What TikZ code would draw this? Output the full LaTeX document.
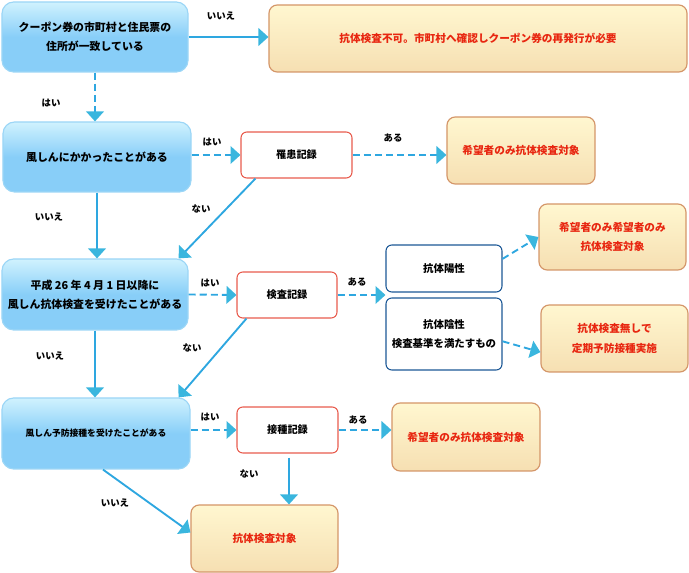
\documentclass[tikz,border=0pt]{standalone}
\usepackage{fontspec}
\setmainfont{Noto Sans CJK JP}
\usetikzlibrary{calc,arrows.meta}
\definecolor{flowc}{RGB}{46,167,224}
\definecolor{tipc}{RGB}{58,182,222}
\definecolor{blueTop}{RGB}{208,242,254}
\definecolor{blueBot}{RGB}{136,206,248}
\definecolor{blueLine}{RGB}{156,214,246}
\definecolor{orTop}{RGB}{255,247,208}
\definecolor{orBot}{RGB}{246,223,178}
\definecolor{orLine}{RGB}{212,150,105}
\definecolor{resRed}{RGB}{232,38,16}
\definecolor{recLine}{RGB}{232,92,78}
\definecolor{labLine}{RGB}{28,88,150}

\tikzset{
	question/.style={rounded corners=10pt, draw=blueLine, line width=1pt, top color=blueTop, bottom color=blueBot, middle color=blueBot, align=center, inner sep=0pt, font=\fontsize{9.3}{16.5}\selectfont\bfseries},
	result/.style={rounded corners=7pt, draw=orLine, line width=1pt, top color=orTop, bottom color=orBot, text=resRed, align=center, inner sep=0pt, font=\fontsize{9.1}{17}\selectfont\bfseries},
	record/.style={rounded corners=5pt, draw=recLine, line width=0.9pt, fill=white, inner sep=0pt, font=\fontsize{8.7}{10}\selectfont\bfseries},
	titer/.style={rounded corners=5pt, draw=labLine, line width=0.9pt, fill=white, align=center, inner sep=0pt, font=\fontsize{8.9}{16.5}\selectfont\bfseries},
	lab/.style={font=\fontsize{8}{10}\selectfont\bfseries},
	flow/.style={draw=flowc, line width=1.6pt, -{Triangle[length=8.5pt,width=15pt,color=tipc]}},
	flowd/.style={flow, dash pattern=on 6pt off 3.5pt}
}

\begin{document}
\begin{tikzpicture}[x=0.03cm,y=-0.03cm]
	\useasboundingbox (0,0) rectangle (689,573);
	
	\node[question, minimum width=5.58cm, minimum height=2.1cm] (coupon) at (95,37) {クーポン券の市町村と住民票の\\住所が一致している};
	\node[result, minimum width=12.54cm, minimum height=2.01cm] (res1) at (478,38.5) {抗体検査不可。市町村へ確認しクーポン券の再発行が必要};
	
	\node[question, minimum width=5.64cm, minimum height=2.1cm] (measles) at (97,157) {風しんにかかったことがある};
	\node[record, minimum width=3.33cm, minimum height=1.38cm] (kanja) at (296.5,155) {罹患記録};
	\node[result, minimum width=4.44cm, minimum height=2.01cm] (res2) at (521,150.5) {希望者のみ抗体検査対象};
	
	\node[question, minimum width=5.58cm, minimum height=2.13cm] (antibody) at (95,294.5) {平成 26 年 4 月 1 日以降に\\風しん抗体検査を受けたことがある};
	\node[record, minimum width=3cm, minimum height=1.38cm] (kensa) at (287,295) {検査記録};
	\node[titer, minimum width=3.48cm, minimum height=1.41cm] (yousei) at (444,268.5) {抗体陽性};
	\node[titer, minimum width=3.48cm, minimum height=2.16cm] (insei) at (444,334) {抗体陰性\\検査基準を満たすもの};
	\node[result, minimum width=4.41cm, minimum height=1.98cm] (res3) at (612.5,237) {希望者のみ希望者のみ\\抗体検査対象};
	\node[result, minimum width=4.41cm, minimum height=2.01cm] (res4) at (614.5,338.5) {抗体検査無しで\\定期予防接種実施};
	
	\node[question, minimum width=5.64cm, minimum height=2.13cm, font=\fontsize{7.5}{9}\selectfont\bfseries] (vacc) at (96,433.5) {風しん予防接種を受けたことがある};
	\node[record, minimum width=3.03cm, minimum height=1.38cm] (sesshu) at (287.5,430) {接種記録};
	\node[result, minimum width=4.44cm, minimum height=2.04cm] (res5) at (466,437) {希望者のみ抗体検査対象};
	\node[result, minimum width=4.41cm, minimum height=2.01cm] (res6) at (264.5,538.5) {抗体検査対象};
	
	\coordinate (split) at ($(yousei.south west)!0.5!(insei.north west)$);
	\coordinate (drop) at ($(sesshu.south)+(1.5,4)$);
	
	\draw[flow] (coupon.east) -- (coupon.east -| res1.west);
	\draw[flowd] (coupon.south) -- (coupon.south |- measles.north);
	\draw[flowd] (measles.east |- kanja) -- (kanja.west);
	\draw[flowd] (kanja.east) -- (kanja.east -| res2.west);
	\draw[flow] (measles.south) -- (measles.south |- antibody.north);
	\draw[flow] ($(kanja.south west)+(15,0)$) -- ($(antibody.north east)+(-10,0)$);
	
	\draw[flowd] (antibody.east) -- (kensa.west);
	\draw[flowd] (kensa.east) -- (kensa.east -| split);
	\draw[flowd] ($(yousei.north east)!0.3!(yousei.south east)$) -- (res3.west);
	\draw[flowd] ($(insei.north east)!0.6!(insei.south east)$) -- ($(res4.north west)!0.7!(res4.south west)$);
	\draw[flow] (antibody.south) -- (antibody.south |- vacc.north);
	\draw[flow] ($(kensa.south west)+(10,0)$) -- ($(vacc.north east)+(-12,0)$);
	
	\draw[flowd] (vacc.east |- sesshu) -- (sesshu.west);
	\draw[flowd] (sesshu.east) -- (sesshu.east -| res5.west);
	\draw[flow] (drop) -- (drop |- res6.north);
	\draw[flow] ($(vacc.south)+(7,0)$) -- ($(res6.west)+(0,-6)$);
	
	\node[lab] (noA) at (221,16) {いいえ};
	\node[lab] (yesA) at (51,103) {はい};
	\node[lab] (yesB) at (212,142) {はい};
	\node[lab] (hasB) at (393,138) {ある};
	\node[lab] (noB) at (49,217) {いいえ};
	\node[lab] (noneB) at (201,209) {ない};
	\node[lab] (yesC) at (210,283) {はい};
	\node[lab] (hasC) at (357,282) {ある};
	\node[lab] (noC) at (50,356) {いいえ};
	\node[lab] (noneC) at (192,348) {ない};
	\node[lab] (yesD) at (210,417) {はい};
	\node[lab] (hasD) at (358,420) {ある};
	\node[lab] (noneD) at (249,474) {ない};
	\node[lab] (noD) at (115,503) {いいえ};
\end{tikzpicture}
\end{document}
